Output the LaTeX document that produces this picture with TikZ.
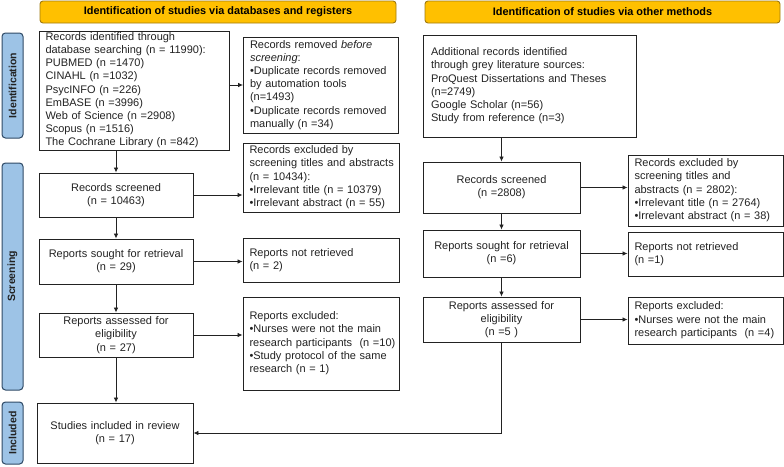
\documentclass[tikz,border=0pt]{standalone}
\usepackage{fontspec}
\setmainfont{Liberation Sans}
\usetikzlibrary{arrows.meta}
\definecolor{banner}{HTML}{FFC000}
\definecolor{bannerline}{HTML}{A07A10}
\definecolor{side}{HTML}{9DC3E6}
\definecolor{sideline}{HTML}{2F4A66}
\definecolor{ink}{HTML}{222222}
\newcommand\lftlines[1]{\begin{tabular}{@{}l@{}}#1\end{tabular}}
\tikzset{
  bx/.style 2 args={draw=ink, line width=0.9pt, minimum width=#1, minimum height=#2, inner ysep=0pt, inner xsep=6.5pt, text width=#1-13pt, font=\fontsize{11}{13.2}\selectfont, text=ink},
  bl/.style={align=left},
  bc/.style={align=center},
  hdr/.style 2 args={draw=bannerline, fill=banner, line width=0.9pt, rounded corners=3pt, minimum width=#1, minimum height=#2, inner sep=0pt, font=\fontsize{10.9}{12}\selectfont\bfseries},
  sidelbl/.style 2 args={draw=sideline, fill=side, line width=1pt, rounded corners=3.5pt, minimum width=#1, minimum height=#2, inner sep=0pt, font=\fontsize{10.5}{12}\selectfont\bfseries, text=ink},
  arr/.style={draw=ink, line width=0.8pt, -{Latex[length=5pt,width=4.5pt]}},
  ln/.style={draw=ink, line width=0.8pt}
}
\begin{document}
\begin{tikzpicture}[x=1pt,y=-1pt]
\useasboundingbox (0,0) rectangle (784,466);
% banners
\node[hdr={356pt}{22pt}] (h1) at (218,12) {Identification of studies via databases and registers};
\node[hdr={355pt}{22pt}] (h2) at (602.5,12) {Identification of studies via other methods};
% side labels
\node[sidelbl={105pt}{21pt}, rotate=90] (s1) at (12.5,85.5) {Identification};
\node[sidelbl={227pt}{21pt}, rotate=90] (s2) at (12.5,276.5) {Screening};
\node[sidelbl={62pt}{21pt}, rotate=90] (s3) at (12.5,433) {Included};
% left column
\node[bx={190pt}{119pt}, bl] (A) at (134,90.5) {\lftlines{Records identified through\\database searching (n = 11990):\\PUBMED (n =1470)\\CINAHL (n =1032)\\PsycINFO (n =226)\\EmBASE (n =3996)\\Web of Science (n =2908)\\Scopus (n =1516)\\The Cochrane Library (n =842)}};
\node[bx={155pt}{96pt}, bl] (B) at (321,85) {\lftlines{Records removed \textit{before}\\\textit{screening}:\\•Duplicate records removed\\by automation tools\\(n=1493)\\•Duplicate records removed\\manually (n =34)}};
\node[bx={156pt}{69pt}, bl] (B2) at (321,177.5) {\lftlines{Records excluded by\\screening titles and abstracts\\(n = 10434):\\•Irrelevant title (n = 10379)\\•Irrelevant abstract (n = 55)}};
\node[bx={154pt}{44pt}, bc] (scrL) at (116,195) {Records screened\\(n = 10463)};
\node[bx={154pt}{45pt}, bc] (souL) at (116,261.5) {Reports sought for retrieval\\(n = 29)};
\node[bx={156pt}{44pt}, bl] (nrL) at (321,260) {\lftlines{Reports not retrieved\\(n = 2)}};
\node[bx={154pt}{44pt}, bc] (assL) at (116,335) {Reports assessed for\\eligibility\\(n = 27)};
\node[bx={156pt}{93pt}, bl] (exL) at (321,343.5) {\lftlines{Reports excluded:\\•Nurses were not the main\\research participants~ (n =10)\\•Study protocol of the same\\research (n = 1)}};
\node[bx={156pt}{60pt}, bc] (inc) at (115,433) {Studies included in review\\(n = 17)};
% right column
\node[bx={213pt}{102pt}, bl, inner xsep=8pt, text width=197pt] (C) at (529.5,86) {\lftlines{Additional records identified\\through grey literature sources:\\ProQuest Dissertations and Theses\\(n=2749)\\Google Scholar (n=56)\\Study from reference (n=3)}};
\node[bx={157pt}{51pt}, bc] (scrR) at (501.5,187.5) {Records screened\\(n =2808)};
\node[bx={155pt}{71pt}, bl] (exR) at (705.5,190.5) {\lftlines{Records excluded by\\screening titles and\\abstracts (n = 2802):\\•Irrelevant title (n = 2764)\\•Irrelevant abstract (n = 38)}};
\node[bx={157pt}{47pt}, bc] (souR) at (501.5,253.5) {Reports sought for retrieval\\(n =6)};
\node[bx={155pt}{44pt}, bl] (nrR) at (705.5,254) {\lftlines{Reports not retrieved\\(n =1)}};
\node[bx={157pt}{45pt}, bc] (assR) at (501.5,319.5) {Reports assessed for\\eligibility\\(n =5 )};
\node[bx={155pt}{47pt}, bl] (exR2) at (705.5,320.5) {\lftlines{Reports excluded:\\•Nurses were not the main\\research participants~ (n =4)}};
% connectors left
\draw[arr] (A.east |- B.west) -- (B.west);
\draw[arr] (scrL.north |- A.south) -- (scrL.north);
\draw[arr] (scrL.south) -- (souL.north);
\draw[arr] (souL.south) -- (assL.north);
\draw[arr] (assL.south) -- (assL.south |- inc.north);
\draw[arr] (scrL.east) -- (scrL.east -| B2.west);
\draw[arr] (souL.east) -- (souL.east -| nrL.west);
\draw[arr] (assL.east) -- (assL.east -| exL.west);
% connectors right
\draw[arr] (scrR.north |- C.south) -- (scrR.north);
\draw[arr] (scrR.south) -- (souR.north);
\draw[arr] (souR.south) -- (assR.north);
\draw[arr] (scrR.east) -- (scrR.east -| exR.west);
\draw[arr] (souR.east) -- (souR.east -| nrR.west);
\draw[arr] (assR.east) -- (assR.east -| exR2.west);
\draw[arr] (assR.south) -- (assR.south |- inc.east) -- (inc.east);
\end{tikzpicture}
\end{document}
